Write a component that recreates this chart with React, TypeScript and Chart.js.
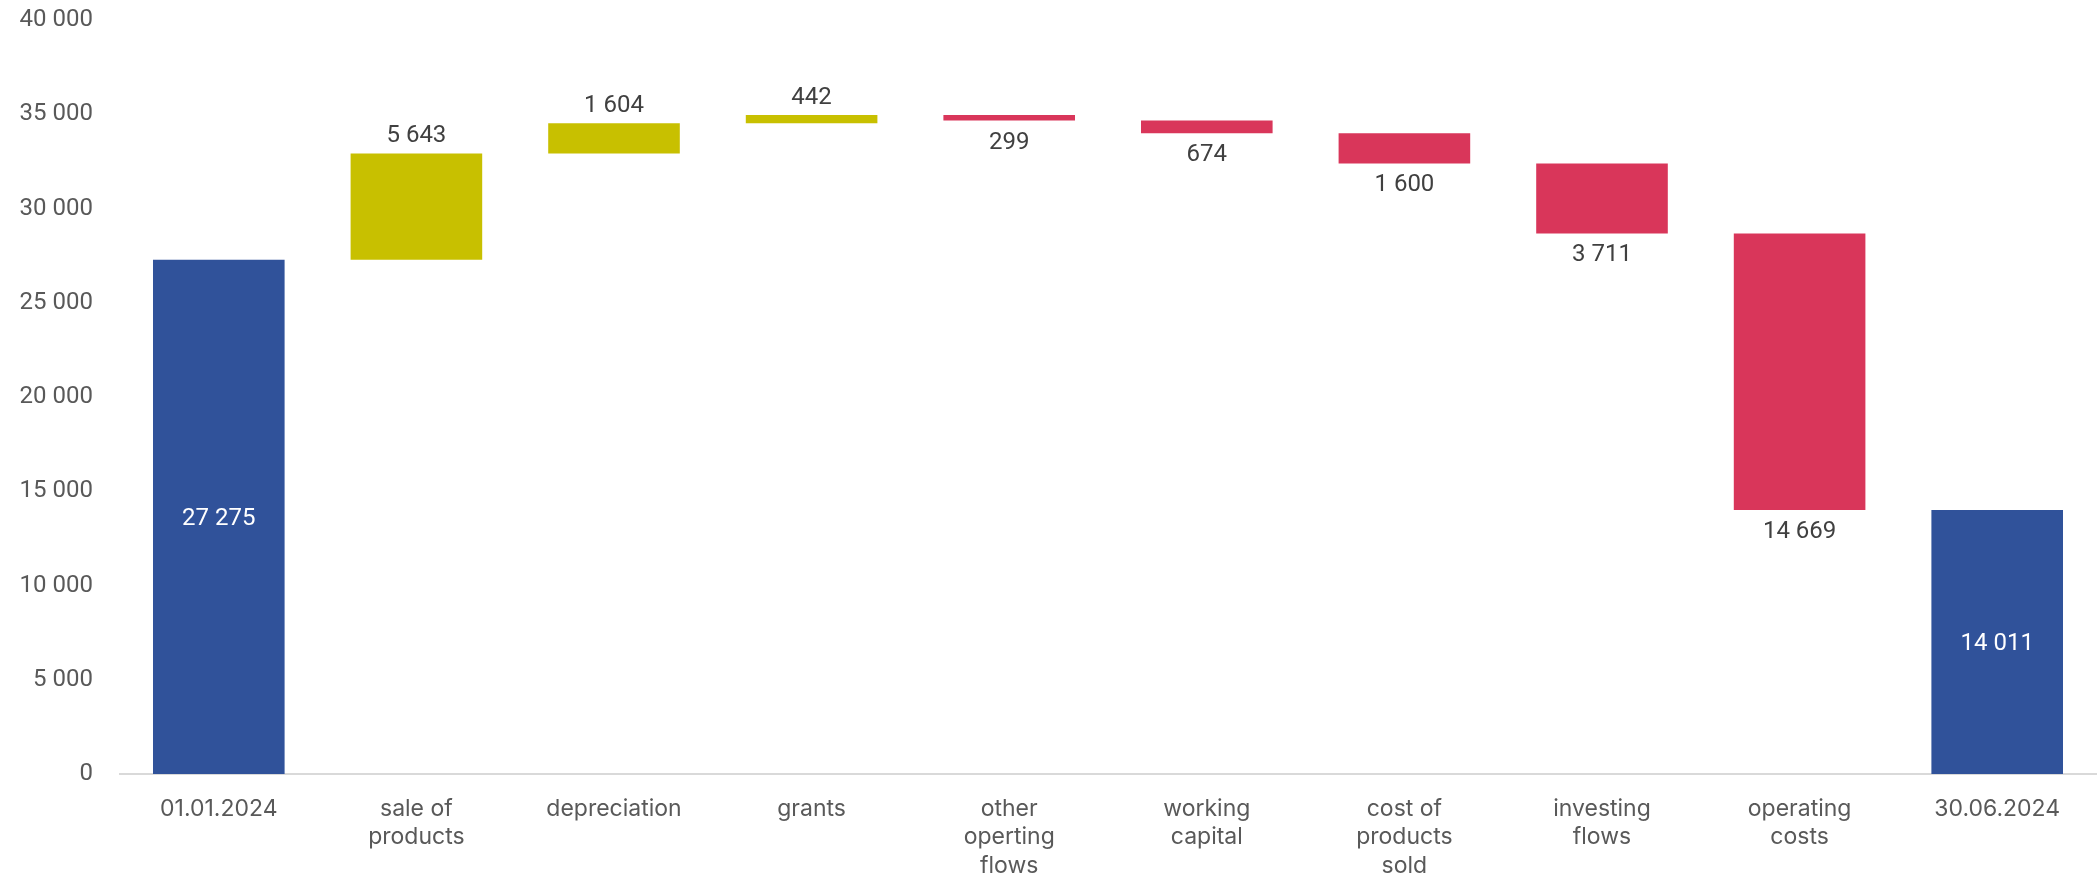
import React, { useEffect, useRef } from "react";
import { Chart, registerables } from "chart.js";

Chart.register(...registerables);

const categories: string[][] = [
  ["01.01.2024"],
  ["sale of", "products"],
  ["depreciation"],
  ["grants"],
  ["other", "operting", "flows"],
  ["working", "capital"],
  ["cost of", "products", "sold"],
  ["investing", "flows"],
  ["operating", "costs"],
  ["30.06.2024"],
];

// signed changes; first and last are totals
const openingBalance = 27275;
const changes = [5643, 1604, 442, -299, -674, -1600, -3711, -14669];
const closingBalance = 14011;

const yTicks = [0, 5000, 10000, 15000, 20000, 25000, 30000, 35000, 40000];

const COLOR_TOTAL = "#30529A";
const COLOR_POS = "#C8C000";
const COLOR_NEG = "#D9365A";

function fmt(n: number): string {
  const s = Math.round(Math.abs(n)).toString();
  return s.replace(/\B(?=(\d{3})+(?!\d))/g, " ");
}

export default function App() {
  const ref = useRef<HTMLCanvasElement | null>(null);

  useEffect(() => {
    document.body.style.margin = "0";
    const canvas = ref.current;
    if (!canvas) return;

    const ranges: [number, number][] = [];
    const colors: string[] = [];
    const kinds: string[] = [];
    const labelsText: string[] = [];
    ranges.push([0, openingBalance]);
    colors.push(COLOR_TOTAL);
    kinds.push("total");
    labelsText.push(fmt(openingBalance));
    let run = openingBalance;
    for (const c of changes) {
      const next = run + c;
      ranges.push([run, next]);
      colors.push(c >= 0 ? COLOR_POS : COLOR_NEG);
      kinds.push(c >= 0 ? "pos" : "neg");
      labelsText.push(fmt(c));
      run = next;
    }
    ranges.push([0, closingBalance]);
    colors.push(COLOR_TOTAL);
    kinds.push("total");
    labelsText.push(fmt(closingBalance));

    const labelPlugin = {
      id: "wfLabels",
      afterDatasetsDraw(chart: any) {
        const ctx = chart.ctx;
        const meta = chart.getDatasetMeta(0);
        const y = chart.scales.y;
        ctx.save();
        ctx.font = "24px Roboto";
        ctx.textAlign = "center";
        ctx.textBaseline = "middle";
        meta.data.forEach((bar: any, i: number) => {
          const [a, b] = ranges[i];
          const x = bar.x;
          const top = y.getPixelForValue(Math.max(a, b));
          const bottom = y.getPixelForValue(Math.min(a, b));
          if (kinds[i] === "total") {
            ctx.fillStyle = "#ffffff";
            ctx.fillText(labelsText[i], x, (top + bottom) / 2 + 2);
          } else if (kinds[i] === "pos") {
            ctx.fillStyle = "#404040";
            ctx.fillText(labelsText[i], x, top - 17);
          } else {
            ctx.fillStyle = "#404040";
            ctx.fillText(labelsText[i], x, bottom + 22);
          }
        });
        ctx.restore();
      },
    };

    const chart = new Chart(canvas, {
      type: "bar",
      data: {
        labels: categories as any,
        datasets: [
          {
            data: ranges as any,
            backgroundColor: colors,
            borderWidth: 0,
            borderSkipped: false,
            categoryPercentage: 1,
            barPercentage: 0.666,
          },
        ],
      },
      options: {
        animation: false,
        responsive: false,
        maintainAspectRatio: false,
        layout: { padding: { top: 20, right: 3, left: 0, bottom: 0 } },
        plugins: {
          legend: { display: false },
          tooltip: { enabled: false },
        },
        scales: {
          x: {
            grid: { display: false, drawTicks: false },
            border: { display: true, color: "#D9D9D9", width: 2 },
            ticks: {
              color: "#595959",
              font: { family: "Inter", size: 23, lineHeight: 1.23 },
              padding: 21,
              maxRotation: 0,
              autoSkip: false,
            },
            afterFit(scale: any) {
              scale.height = 120;
            },
          },
          y: {
            min: 0,
            max: 40000,
            afterBuildTicks(scale: any) {
              scale.ticks = yTicks.map((v) => ({ value: v }));
            },
            grid: { display: false, drawTicks: false },
            border: { display: false },
            ticks: {
              color: "#595959",
              font: { family: "Roboto", size: 24 },
              padding: 27,
              callback: (v: any) => fmt(Number(v)),
            },
            afterFit(scale: any) {
              scale.width = 120;
              scale.paddingTop = 0;
              scale.paddingBottom = 0;
            },
          },
        },
      },
      plugins: [labelPlugin],
    });

    return () => chart.destroy();
  }, []);

  return (
    <div style={{ position: "absolute", left: 0, top: 0, width: 2099, height: 894 }}>
      <canvas ref={ref} width={2099} height={894} style={{ width: 2099, height: 894 }} />
    </div>
  );
}
